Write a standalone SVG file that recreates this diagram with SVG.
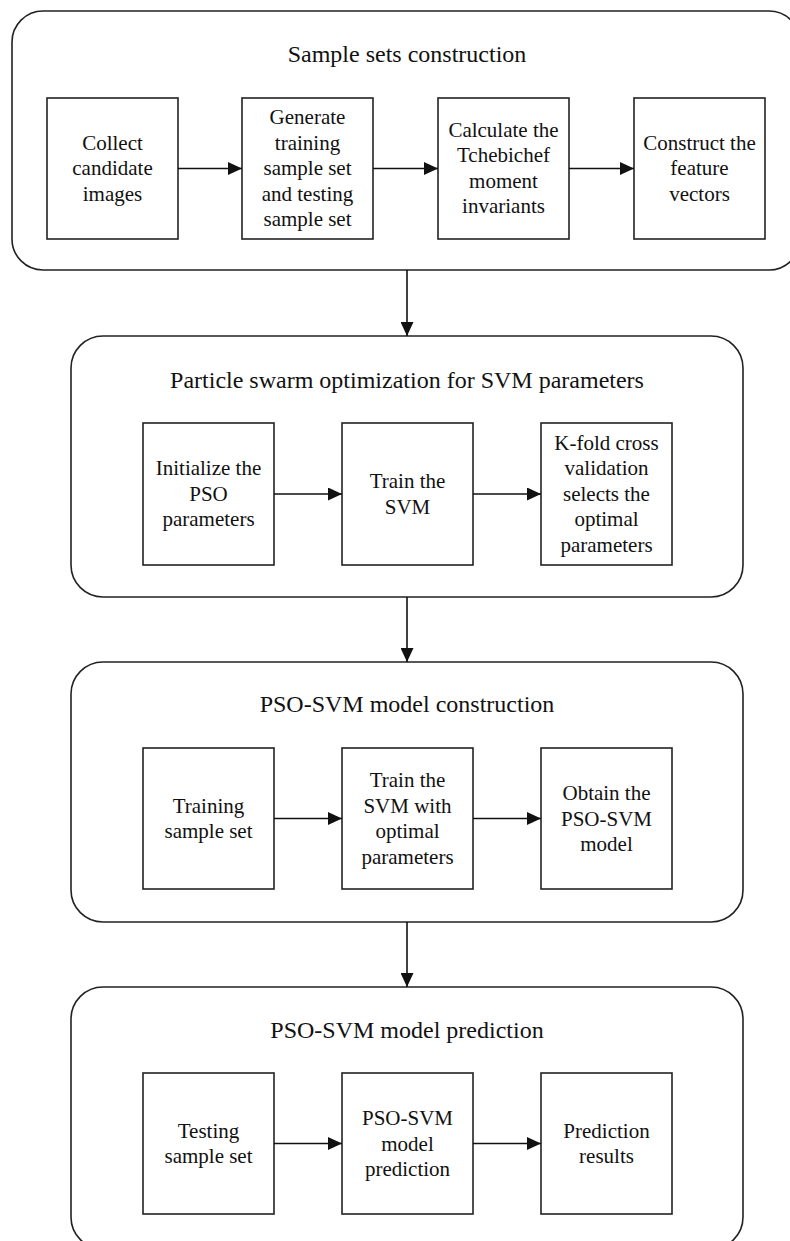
<svg xmlns="http://www.w3.org/2000/svg" width="790" height="1241" viewBox="0 0 790 1241">
<style>
.grp{fill:#fff;stroke:#222;stroke-width:1.6}
.box{fill:#fff;stroke:#222;stroke-width:1.6}
.title{font-family:"Liberation Serif","Times New Roman",serif;font-size:24px;fill:#111;text-anchor:middle}
.t{font-family:"Liberation Serif","Times New Roman",serif;font-size:21px;fill:#111;text-anchor:middle}
.c{stroke:#111;stroke-width:1.6;fill:none;marker-end:url(#ah)}
</style>
<defs>
<marker id="ah" markerUnits="userSpaceOnUse" markerWidth="14" markerHeight="13" refX="14" refY="6.5" orient="auto">
<path d="M0,0 L14,6.5 L0,13 z" fill="#111"/>
</marker>
</defs>
<rect width="790" height="1241" fill="#fff"/>

<g id="group1">
<rect class="grp" x="12" y="11" width="788" height="259" rx="31" ry="31"/>
<text class="title" x="407" y="62">Sample sets construction</text>
</g>
<g id="group2">
<rect class="grp" x="71" y="336" width="672" height="261" rx="32" ry="32"/>
<text class="title" x="407" y="388">Particle swarm optimization for SVM parameters</text>
</g>
<g id="group3">
<rect class="grp" x="71" y="662" width="672" height="260" rx="32" ry="32"/>
<text class="title" x="407" y="712">PSO-SVM model construction</text>
</g>
<g id="group4">
<rect class="grp" x="71" y="987" width="672" height="262" rx="32" ry="32"/>
<text class="title" x="407" y="1038">PSO-SVM model prediction</text>
</g>

<g id="n1">
<rect class="box" x="47" y="98" width="131" height="141"/>
<text class="t" x="112.5"><tspan x="112.5" y="149.5">Collect</tspan><tspan x="112.5" y="175">candidate</tspan><tspan x="112.5" y="200.5">images</tspan></text>
</g>
<g id="n2">
<rect class="box" x="242" y="98" width="131" height="141"/>
<text class="t"><tspan x="307.5" y="124">Generate</tspan><tspan x="307.5" y="149.5">training</tspan><tspan x="307.5" y="175">sample set</tspan><tspan x="307.5" y="200.5">and testing</tspan><tspan x="307.5" y="226">sample set</tspan></text>
</g>
<g id="n3">
<rect class="box" x="438" y="98" width="131" height="141"/>
<text class="t"><tspan x="503.5" y="136.5">Calculate the</tspan><tspan x="503.5" y="162">Tchebichef</tspan><tspan x="503.5" y="187.5">moment</tspan><tspan x="503.5" y="213">invariants</tspan></text>
</g>
<g id="n4">
<rect class="box" x="634" y="98" width="131" height="141"/>
<text class="t"><tspan x="699.5" y="149.5">Construct the</tspan><tspan x="699.5" y="175">feature</tspan><tspan x="699.5" y="200.5">vectors</tspan></text>
</g>

<g id="n5">
<rect class="box" x="143" y="423" width="131" height="142"/>
<text class="t"><tspan x="208.5" y="475">Initialize the</tspan><tspan x="208.5" y="500.5">PSO</tspan><tspan x="208.5" y="526">parameters</tspan></text>
</g>
<g id="n6">
<rect class="box" x="342" y="423" width="131" height="142"/>
<text class="t"><tspan x="407.5" y="488">Train the</tspan><tspan x="407.5" y="513.5">SVM</tspan></text>
</g>
<g id="n7">
<rect class="box" x="541" y="423" width="131" height="142"/>
<text class="t"><tspan x="606.5" y="449.5">K-fold cross</tspan><tspan x="606.5" y="475">validation</tspan><tspan x="606.5" y="500.5">selects the</tspan><tspan x="606.5" y="526">optimal</tspan><tspan x="606.5" y="551.5">parameters</tspan></text>
</g>

<g id="n8">
<rect class="box" x="143" y="748" width="131" height="141"/>
<text class="t"><tspan x="208.5" y="812.5">Training</tspan><tspan x="208.5" y="838">sample set</tspan></text>
</g>
<g id="n9">
<rect class="box" x="342" y="748" width="131" height="141"/>
<text class="t"><tspan x="407.5" y="787">Train the</tspan><tspan x="407.5" y="812.5">SVM with</tspan><tspan x="407.5" y="838">optimal</tspan><tspan x="407.5" y="863.5">parameters</tspan></text>
</g>
<g id="n10">
<rect class="box" x="541" y="748" width="131" height="141"/>
<text class="t"><tspan x="606.5" y="800">Obtain the</tspan><tspan x="606.5" y="825.5">PSO-SVM</tspan><tspan x="606.5" y="851">model</tspan></text>
</g>

<g id="n11">
<rect class="box" x="143" y="1073" width="131" height="141"/>
<text class="t"><tspan x="208.5" y="1137.5">Testing</tspan><tspan x="208.5" y="1163">sample set</tspan></text>
</g>
<g id="n12">
<rect class="box" x="342" y="1073" width="131" height="141"/>
<text class="t"><tspan x="407.5" y="1125">PSO-SVM</tspan><tspan x="407.5" y="1150.5">model</tspan><tspan x="407.5" y="1176">prediction</tspan></text>
</g>
<g id="n13">
<rect class="box" x="541" y="1073" width="131" height="141"/>
<text class="t"><tspan x="606.5" y="1137.5">Prediction</tspan><tspan x="606.5" y="1163">results</tspan></text>
</g>

<g id="connectors">
<line class="c" x1="178" y1="168.5" x2="242" y2="168.5"/>
<line class="c" x1="373" y1="168.5" x2="438" y2="168.5"/>
<line class="c" x1="569" y1="168.5" x2="634" y2="168.5"/>
<line class="c" x1="407" y1="270" x2="407" y2="336"/>
<line class="c" x1="274" y1="494" x2="342" y2="494"/>
<line class="c" x1="473" y1="494" x2="541" y2="494"/>
<line class="c" x1="407" y1="597" x2="407" y2="662"/>
<line class="c" x1="274" y1="818.5" x2="342" y2="818.5"/>
<line class="c" x1="473" y1="818.5" x2="541" y2="818.5"/>
<line class="c" x1="407" y1="922" x2="407" y2="987"/>
<line class="c" x1="274" y1="1143.5" x2="342" y2="1143.5"/>
<line class="c" x1="473" y1="1143.5" x2="541" y2="1143.5"/>
</g>
</svg>
